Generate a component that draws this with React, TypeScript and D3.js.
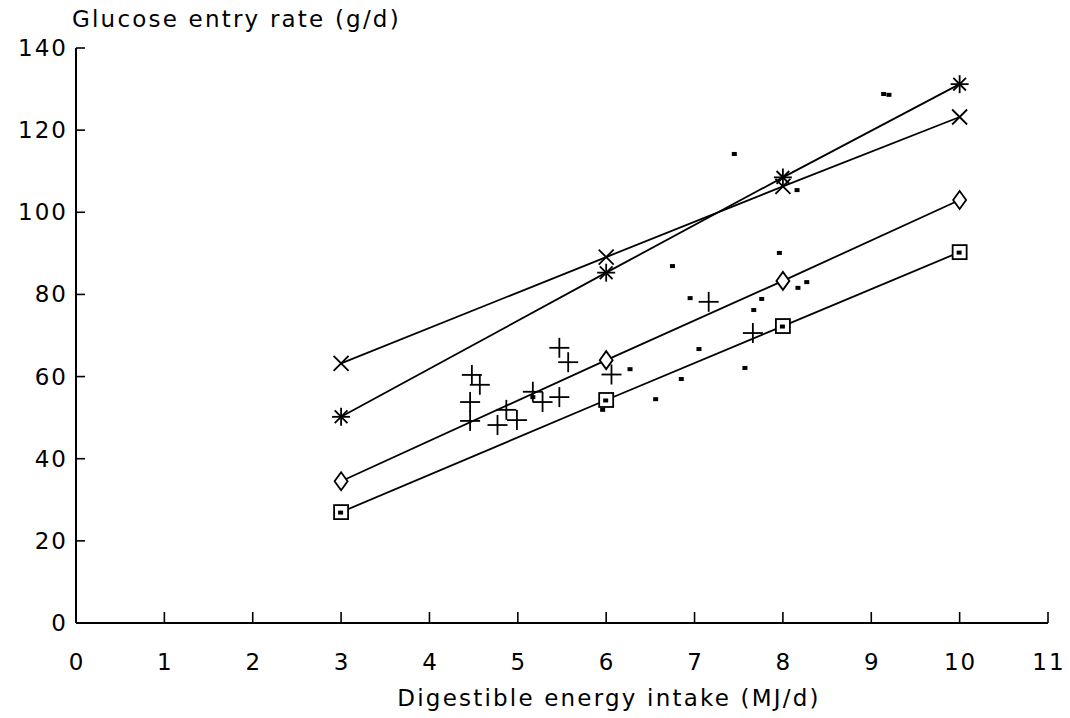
import React, { useEffect, useRef } from 'react';
import * as d3 from 'd3';

// fitted-line series (same x levels for all four)
const levels = [3, 6, 8, 10];
const asteriskVals = [50.2, 85.3, 108.5, 131.2];
const crossVals = [63.2, 89.1, 106.3, 123.2];
const diamondVals = [34.5, 64, 83.3, 103];
const squareVals = [27, 54.3, 72.3, 90.3];

// observed points, plus markers
const plusX = [5.47, 5.57, 4.48, 4.57, 4.46, 4.46, 4.77, 4.87, 4.99, 5.17, 5.28, 5.47, 6.06, 7.16, 7.66];
const plusY = [67, 63.5, 60.4, 58, 53.8, 49.2, 48.2, 51.9, 49.4, 56.3, 53.8, 55, 60.5, 78.2, 70.6];

// observed points, small filled squares
const dotX = [7.45, 8.16, 6.75, 6.95, 7.96, 8.27, 8.17, 7.76, 7.67, 7.05, 7.57, 6.85, 6.27, 6.56, 5.96, 5.17, 9.14, 9.2];
const dotY = [114.2, 105.4, 86.9, 79.1, 90.1, 83, 81.6, 78.9, 76.2, 66.7, 62.1, 59.4, 61.8, 54.5, 51.9, 55, 128.8, 128.6];

const xTicks = d3.range(0, 12);
const yTicks = d3.range(0, 141, 20);

const FONT = '"DejaVu Sans", sans-serif';

const App = () => {
    const ref = useRef(null);

    useEffect(() => {
        const svg = d3.select(ref.current);
        svg.selectAll('*').remove();

        const x = d3.scaleLinear().domain([0, 11]).range([76, 1048]);
        const y = d3.scaleLinear().domain([0, 140]).range([623, 48]);

        // axes
        svg.append('line')
            .attr('x1', x(0)).attr('x2', x(11))
            .attr('y1', y(0)).attr('y2', y(0))
            .attr('stroke', '#000').attr('stroke-width', 2);
        svg.append('line')
            .attr('x1', x(0)).attr('x2', x(0))
            .attr('y1', y(0)).attr('y2', y(140))
            .attr('stroke', '#000').attr('stroke-width', 2);

        xTicks.forEach(t => {
            if (t > 0) {
                svg.append('line')
                    .attr('x1', x(t)).attr('x2', x(t))
                    .attr('y1', y(0)).attr('y2', y(0) - 11)
                    .attr('stroke', '#000').attr('stroke-width', 1.6);
            }
            svg.append('text')
                .attr('x', x(t) + 1).attr('y', 670)
                .attr('text-anchor', 'middle')
                .style('font-family', FONT).style('font-size', '23px')
                .style('letter-spacing', '2px')
                .text(t);
        });

        yTicks.forEach(t => {
            if (t > 0) {
                svg.append('line')
                    .attr('x1', x(0)).attr('x2', x(0) + 9)
                    .attr('y1', y(t)).attr('y2', y(t))
                    .attr('stroke', '#000').attr('stroke-width', 1.6);
            }
            svg.append('text')
                .attr('x', 68).attr('y', y(t) + 8)
                .attr('text-anchor', 'end')
                .style('font-family', FONT).style('font-size', '23px')
                .style('letter-spacing', '2px')
                .text(t);
        });

        svg.append('text')
            .attr('x', 72).attr('y', 27)
            .style('font-family', FONT).style('font-size', '23px')
            .style('letter-spacing', '2.2px')
            .text('Glucose entry rate (g/d)');

        svg.append('text')
            .attr('x', 609).attr('y', 706)
            .attr('text-anchor', 'middle')
            .style('font-family', FONT).style('font-size', '23px')
            .style('letter-spacing', '2.2px')
            .text('Digestible energy intake (MJ/d)');

        const line = d3.line().x(d => x(d[0])).y(d => y(d[1]));
        const series = [asteriskVals, crossVals, diamondVals, squareVals];
        series.forEach(vals => {
            svg.append('path')
                .attr('d', line(levels.map((l, i) => [l, vals[i]])))
                .attr('fill', 'none').attr('stroke', '#000').attr('stroke-width', 1.8);
        });

        const g = svg.append('g').attr('stroke', '#000').attr('fill', 'none').attr('stroke-width', 1.8);

        // asterisks
        levels.forEach((l, i) => {
            const cx = x(l), cy = y(asteriskVals[i]);
            const r = 9;
            [0, 45, 90, 135].forEach(a => {
                const rad = a * Math.PI / 180;
                g.append('line')
                    .attr('x1', cx - r * Math.cos(rad)).attr('y1', cy - r * Math.sin(rad))
                    .attr('x2', cx + r * Math.cos(rad)).attr('y2', cy + r * Math.sin(rad));
            });
        });

        // crosses
        levels.forEach((l, i) => {
            const cx = x(l), cy = y(crossVals[i]);
            const r = 7.5;
            g.append('line').attr('x1', cx - r).attr('y1', cy - r).attr('x2', cx + r).attr('y2', cy + r);
            g.append('line').attr('x1', cx - r).attr('y1', cy + r).attr('x2', cx + r).attr('y2', cy - r);
        });

        // diamonds
        levels.forEach((l, i) => {
            const cx = x(l), cy = y(diamondVals[i]);
            g.append('path')
                .attr('d', `M${cx},${cy - 9}L${cx + 6.5},${cy}L${cx},${cy + 9}L${cx - 6.5},${cy}Z`)
                .attr('fill', '#fff');
        });

        // squares with a dot inside
        levels.forEach((l, i) => {
            const cx = x(l), cy = y(squareVals[i]);
            g.append('rect')
                .attr('x', cx - 7).attr('y', cy - 7)
                .attr('width', 14).attr('height', 14)
                .attr('fill', '#fff');
            svg.append('rect')
                .attr('x', cx - 3).attr('y', cy - 1.5)
                .attr('width', 5).attr('height', 4)
                .attr('fill', '#000');
        });

        // pluses
        plusX.forEach((px, i) => {
            const cx = x(px), cy = y(plusY[i]);
            const r = 10;
            g.append('line').attr('x1', cx - r).attr('y1', cy).attr('x2', cx + r).attr('y2', cy);
            g.append('line').attr('x1', cx).attr('y1', cy - r).attr('x2', cx).attr('y2', cy + r);
        });

        // small filled squares
        dotX.forEach((dx, i) => {
            svg.append('rect')
                .attr('x', x(dx) - 2.5).attr('y', y(dotY[i]) - 2)
                .attr('width', 5).attr('height', 4)
                .attr('fill', '#000');
        });
    }, []);

    return (
        <svg
            ref={ref}
            width={1070}
            height={718}
            style={{ position: 'absolute', left: 0, top: 0, background: '#fff' }}
        />
    );
};

export default App;
